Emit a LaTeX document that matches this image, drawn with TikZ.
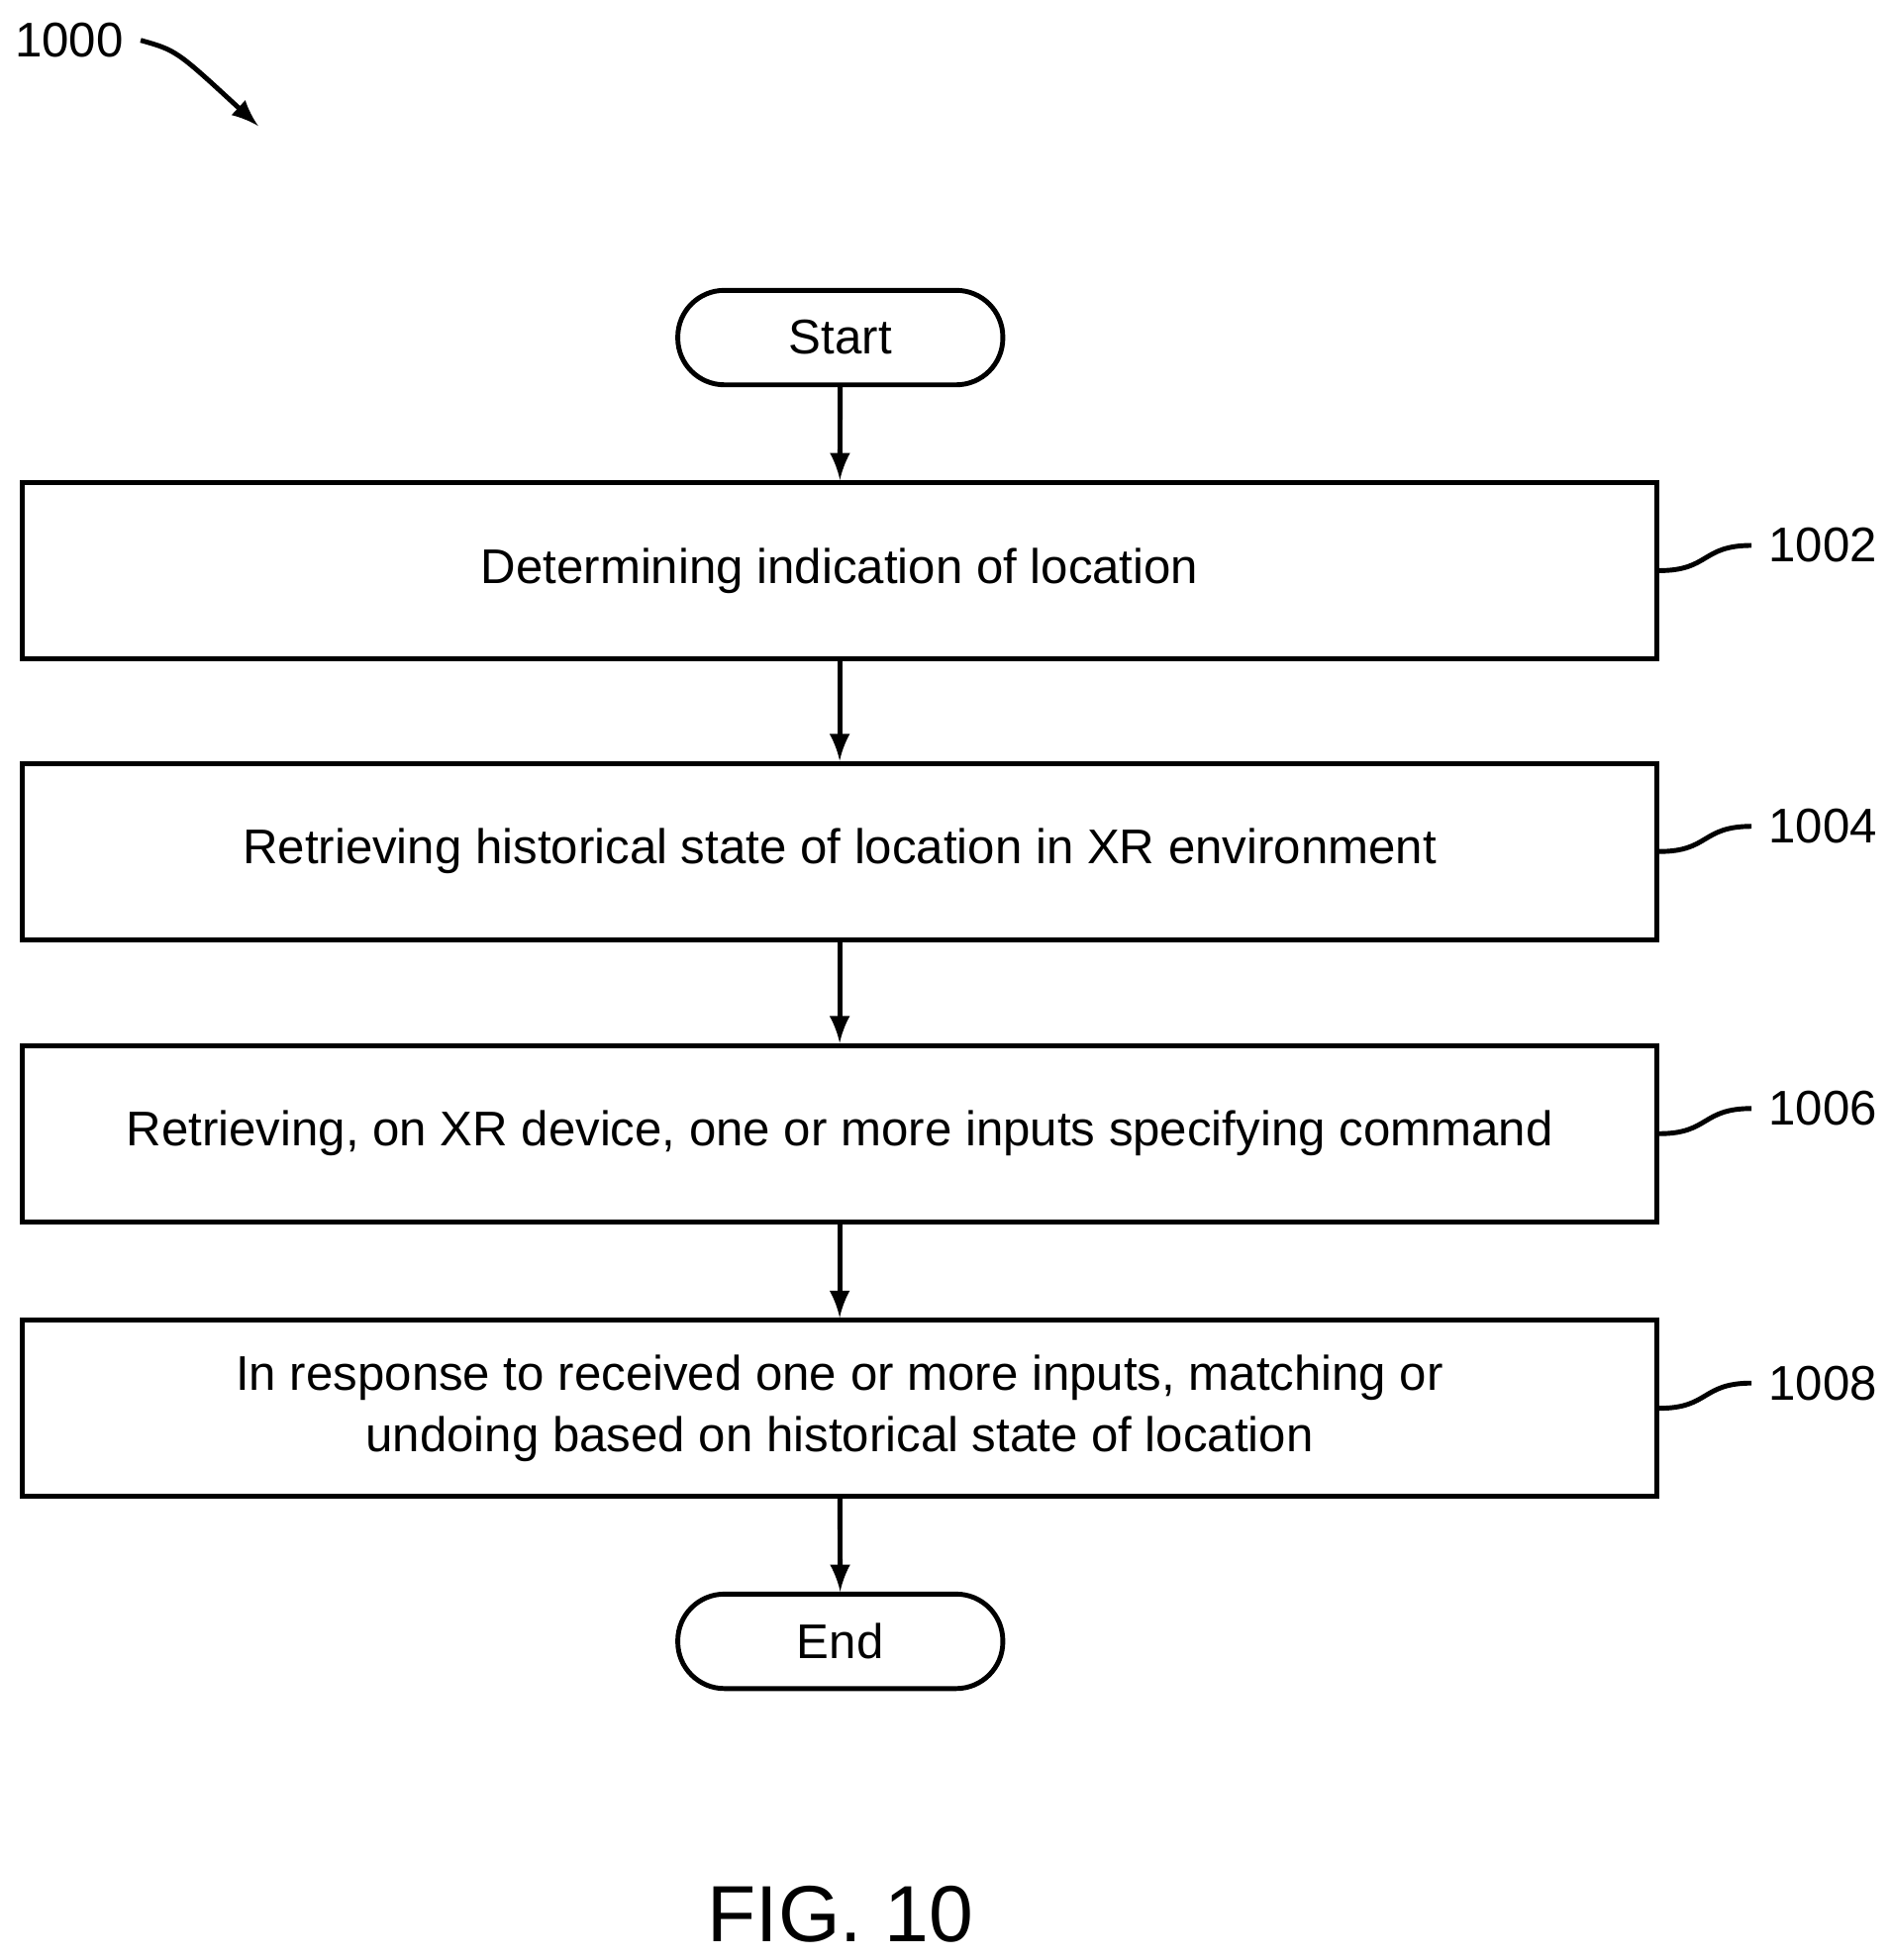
\documentclass[tikz,border=0pt]{standalone}
\usepackage{fontspec}
\setmainfont{Liberation Sans}
\begin{document}
\begin{tikzpicture}[line width=1.1pt, >=latex,
    box/.style = {draw, minimum width=12.97cm, minimum height=1.4cm, align=center, font=\fontsize{11}{14}\selectfont},
    term/.style = {draw, rounded corners=0.37cm, minimum width=2.58cm, minimum height=0.75cm, font=\fontsize{11}{13}\selectfont},
    ref/.style = {font=\fontsize{11}{13}\selectfont}]
        \useasboundingbox (0,0) rectangle (15,-15.56);
        \node[ref] (1000) at (0.55,-0.32) {1000};
        \coordinate (p) at (2.05,-1.0);
        \draw[->] (1000.east) .. controls (1.4,-0.4) .. (p);

        \node[term] (start) at (6.67,-2.68) {Start};
        \node[box] (1) at (6.665,-4.53) {Determining indication of location};
        \node[box] (2) at (6.665,-6.76) {Retrieving historical state of location in XR environment};
        \node[box] (3) at (6.665,-9.0) {Retrieving, on XR device, one or more inputs specifying command};
        \node[box] (4) at (6.665,-11.18) {In response to received one or more inputs, matching or\\undoing based on historical state of location};
        \node[term] (end) at (6.67,-13.03) {End};

        \draw[->] (start) -- (1);
        \draw[->] (1) -- (2);
        \draw[->] (2) -- (3);
        \draw[->] (3) -- (4);
        \draw[->] (4) -- (end);

        \foreach \n/\t in {1/1002, 2/1004, 3/1006, 4/1008} {
            \node[ref] (l\n) at ([xshift=1.3cm,yshift=0.2cm]\n.east) {\t};
            \draw (\n.east) .. controls +(0.4,0) and +(-0.4,0) .. (l\n.west);
        }

        \node[font=\fontsize{18}{21}\selectfont] (fig) at (6.67,-15.2) {FIG. 10};
    \end{tikzpicture}
\end{document}
